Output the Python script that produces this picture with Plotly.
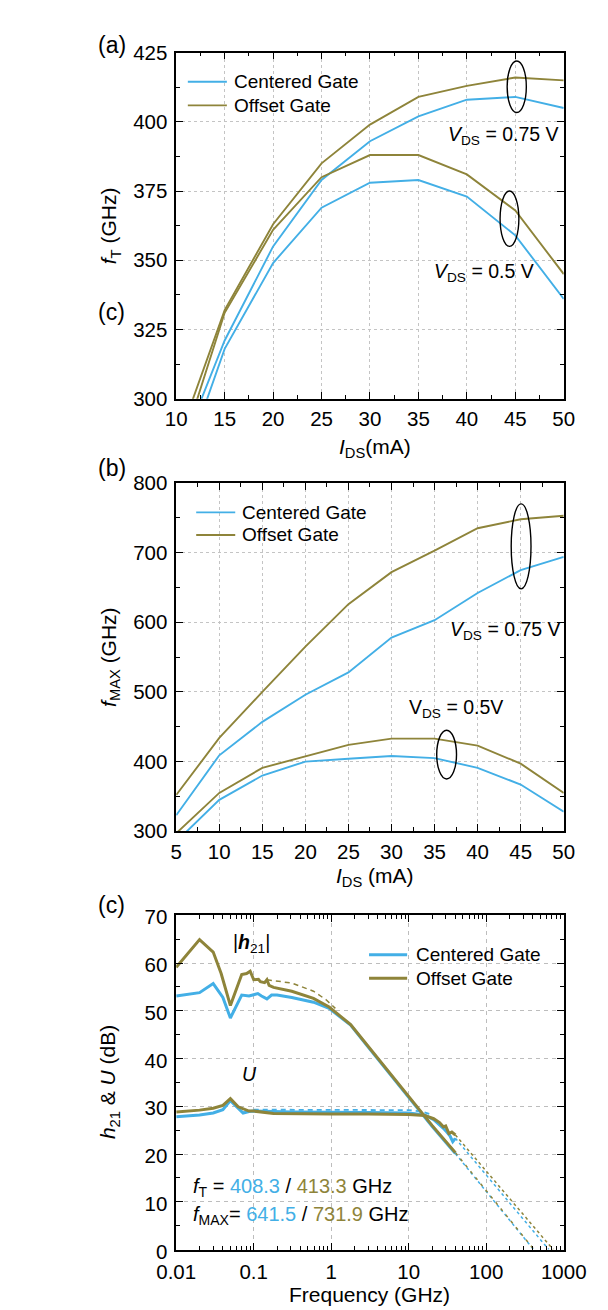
import plotly.graph_objects as go

W, H = 608, 1310
BLUE = "#43AFE6"
OLIVE = "#8E843A"
FONT = "Liberation Sans, Arial, Helvetica, sans-serif"

# ---------------- data (a): fT vs IDS ----------------
ids_a = [10, 15, 20, 25, 30, 35, 40, 45, 50]
ft_center_075 = [277, 321, 355, 379, 393, 402, 408, 409, 405]
ft_center_050 = [268, 318, 349, 369, 378, 379, 373, 359, 336]
ft_offset_075 = [283, 332, 363, 385, 399, 409, 413, 416, 415]
ft_offset_050 = [276, 331, 361, 380, 388, 388, 381, 368, 345]

# ---------------- data (b): fMAX vs IDS ----------------
ids_b = [5, 10, 15, 20, 25, 30, 35, 40, 45, 50]
fmax_center_075 = [323, 409, 457, 496, 528, 578, 603, 642, 675, 694]
fmax_offset_075 = [352, 434, 500, 565, 626, 672, 703, 735, 748, 753]
fmax_center_050 = [285, 345, 380, 400, 404, 408, 405, 391, 367, 328]
fmax_offset_050 = [297, 355, 391, 408, 424, 433, 433, 423, 397, 355]

# ---------------- data (c): |h21| and U vs frequency ----------------
f_h21_offset = [0.01, 0.02, 0.03, 0.038, 0.05, 0.07, 0.081, 0.09, 0.1, 0.115, 0.122,
                0.138, 0.148, 0.158, 0.18, 0.31, 0.59, 0.94, 1.78, 3, 10, 20, 40]
h21_offset = [59.1, 64.9, 62.3, 57.8, 51.1, 57.6, 57.8, 58.3, 56.5, 56.6, 56.1,
              55.9, 56.5, 55.3, 54.9, 54.1, 52.6, 50.8, 47.1, 42.6, 32.0, 26.0, 20.3]
f_h21_center = [0.01, 0.02, 0.03, 0.04, 0.05, 0.07, 0.087, 0.1, 0.113, 0.126, 0.148,
                0.17, 0.2, 0.31, 0.59, 0.94, 1.78, 3, 10, 20, 40]
h21_center = [53.1, 53.8, 55.7, 52.8, 48.5, 53.3, 53.1, 53.3, 53.6, 53.1, 52.5,
              53.3, 53.3, 52.8, 51.8, 50.5, 47.0, 42.4, 31.8, 25.8, 20.1]
f_u_offset = [0.01, 0.02, 0.03, 0.04, 0.05, 0.063, 0.087, 0.1, 0.18, 0.5, 1, 3, 10,
              16, 21, 25, 28, 30, 33, 36, 40]
u_offset = [28.8, 29.2, 29.6, 30.2, 31.6, 29.9, 29.0, 29.0, 28.5, 28.4, 28.4, 28.4, 28.3,
            28.1, 27.4, 26.6, 25.7, 25.9, 24.3, 24.6, 24.0]
f_u_center = [0.01, 0.02, 0.03, 0.04, 0.05, 0.073, 0.087, 0.1, 0.3, 1, 3, 10,
              16, 21, 25, 28, 31, 34, 37, 40]
u_center = [27.8, 28.2, 28.6, 29.3, 31.2, 28.6, 28.9, 29.0, 28.8, 28.8, 28.7, 28.6,
            28.2, 27.2, 26.2, 25.4, 24.6, 23.8, 22.6, 23.3]
# dashed fits / extrapolations
f_h21_fit_offset = [0.148, 0.31, 0.59, 0.86, 1.13]
h21_fit_offset = [56.5, 55.8, 54.1, 52.3, 50.5]
f_u_fit_center = [0.1, 1, 10, 15, 20]
u_fit_center = [29.3, 29.3, 29.2, 28.9, 28.2]
f_h21_ext_center = [40, 408.3]
h21_ext_center = [20.1, 0]
f_h21_ext_offset = [40, 413.3]
h21_ext_offset = [20.3, 0]
f_u_ext_center = [40, 641.5]
u_ext_center = [23.3, 0]
f_u_ext_offset = [40, 731.9]
u_ext_offset = [24.0, 0]

freq_ticks = [0.01, 0.1, 1, 10, 100, 1000]
freq_ticklabels = ["0.01", "0.1", "1", "10", "100", "1000"]
freq_minor = [m * 10 ** e for e in range(-2, 3) for m in range(2, 10)]

legend_labels = ["Centered Gate", "Offset Gate"]


def P(x, y):
    return x / W, 1 - y / H


fig = go.Figure()


def add_line(x, y, color, xa, ya, width=1.9, dash="solid"):
    fig.add_trace(go.Scatter(x=x, y=y, mode="lines",
                             line=dict(color=color, width=width, dash=dash),
                             xaxis=xa, yaxis=ya, showlegend=False, hoverinfo="skip"))


# (a)
add_line(ids_a, ft_center_075, BLUE, "x", "y")
add_line(ids_a, ft_center_050, BLUE, "x", "y")
add_line(ids_a, ft_offset_075, OLIVE, "x", "y")
add_line(ids_a, ft_offset_050, OLIVE, "x", "y")
# (b)
add_line(ids_b, fmax_center_075, BLUE, "x2", "y2")
add_line(ids_b, fmax_center_050, BLUE, "x2", "y2")
add_line(ids_b, fmax_offset_075, OLIVE, "x2", "y2")
add_line(ids_b, fmax_offset_050, OLIVE, "x2", "y2")
# (c) dashed first (underneath)
DOT = "3px,3px"
add_line(f_h21_fit_offset, h21_fit_offset, OLIVE, "x3", "y3", 1.5, "5px,4px")
add_line(f_u_fit_center, u_fit_center, BLUE, "x3", "y3", 1.8, "5px,4px")
add_line(f_h21_ext_center, h21_ext_center, BLUE, "x3", "y3", 1.5, DOT)
add_line(f_h21_ext_offset, h21_ext_offset, OLIVE, "x3", "y3", 1.5, "3px,5px")
add_line(f_u_ext_center, u_ext_center, BLUE, "x3", "y3", 1.5, DOT)
add_line(f_u_ext_offset, u_ext_offset, OLIVE, "x3", "y3", 1.5, DOT)
add_line(f_u_center, u_center, BLUE, "x3", "y3", 3)
add_line(f_h21_center, h21_center, BLUE, "x3", "y3", 3)
add_line(f_u_offset, u_offset, OLIVE, "x3", "y3", 3)
add_line(f_h21_offset, h21_offset, OLIVE, "x3", "y3", 3)

XDOM = [159.5 / W, 576.5 / W]


def ax(is_x, **kw):
    d = dict(showline=True, linecolor="black", linewidth=1.5, mirror="ticks",
             ticks="inside", ticklen=7, tickwidth=1.3, tickcolor="black",
             showgrid=True, gridcolor="#C4C4C4", gridwidth=1, griddash="dot",
             zeroline=False, tickfont=dict(family=FONT, size=20.5, color="black"),
             ticklabelstandoff=1 if is_x else 3)
    d.update(kw)
    return d


def minor(dt):
    return dict(ticks="inside", ticklen=4, tickwidth=1.2, tickcolor="black",
                showgrid=False, dtick=dt)


layout = dict(
    width=W, height=H, margin=dict(l=0, r=0, t=0, b=0),
    paper_bgcolor="white", plot_bgcolor="white", showlegend=False,
    font=dict(family=FONT, color="black"),
    xaxis=ax(True, domain=XDOM, anchor="y", range=[10, 50], dtick=5, tick0=10, minor=minor(2.5)),
    yaxis=ax(False, domain=[1 - 386 / H, 1 - 33.3 / H], anchor="x", range=[300, 425], dtick=25,
             tick0=300, minor=minor(12.5)),
    xaxis2=ax(True, domain=XDOM, anchor="y2", range=[5, 50], dtick=5, tick0=5, minor=minor(2.5)),
    yaxis2=ax(False, domain=[1 - 827 / H, 1 - 472 / H], anchor="x2", range=[300, 800], dtick=100,
              tick0=300, minor=minor(50)),
    xaxis3=ax(True, domain=XDOM, anchor="y3", type="log", range=[-2, 3], tickmode="array",
              tickvals=freq_ticks, ticktext=freq_ticklabels, griddash="4px,4px",
              gridcolor="#BDBDBD", ticklabelstandoff=3,
              minor=dict(ticks="inside", ticklen=4, tickwidth=1.2, tickcolor="black",
                         showgrid=False, tickmode="array", tickvals=freq_minor)),
    yaxis3=ax(False, domain=[1 - 1253.5 / H, 1 - 912.7 / H], anchor="x3", range=[0, 70], dtick=10,
              tick0=0, griddash="4px,4px", gridcolor="#BDBDBD", minor=minor(5),
              ticklabelshift=2),
)
fig.update_layout(**layout)

ann = []
shapes = []


def text(x, y, s, size=19.5, xanchor="left", angle=0, color="black"):
    px_, py_ = P(x, y)
    ann.append(dict(x=px_, y=py_, xref="paper", yref="paper", text=s, showarrow=False,
                    xanchor=xanchor, yanchor="middle", textangle=angle,
                    font=dict(family=FONT, size=size, color=color)))


def hline(x0, x1, y, color, width):
    a0, b0 = P(x0, y)
    a1, _ = P(x1, y)
    shapes.append(dict(type="line", xref="paper", yref="paper", x0=a0, x1=a1, y0=b0, y1=b0,
                       line=dict(color=color, width=width)))


def ellipse(xref, yref, cx, cy, rx, ry):
    shapes.append(dict(type="circle", xref=xref, yref=yref, x0=cx - rx, x1=cx + rx,
                       y0=cy - ry, y1=cy + ry, line=dict(color="black", width=1.4)))


# panel labels
text(90, 25, "(a)", 23, "center")
text(90, 298, "(c)", 23, "center")
text(90, 457, "(b)", 23, "center")
text(90, 902, "(c)", 23, "center")

# axis titles
text(88, 209.5, "<i>f</i><sub>T</sub> (GHz)", 21, "center", -90)
text(373, 436, "<i>I</i><sub>DS</sub>(mA)", 21, "center")
text(88, 649.5, "<i>f</i><sub>MAX</sub> (GHz)", 21, "center", -90)
text(373, 874, "<i>I</i><sub>DS</sub> (mA)", 21, "center")
text(88, 1083, "<i>h</i><sub>21</sub> &amp; <i>U</i> (dB)", 21, "center", -90)
text(368, 1299.5, "Frequency (GHz)", 21, "center")

# legends
for (x0, x1, xt, ys, lw) in [(172, 214, 220, (63, 87), 1.9),
                             (181, 223, 228, (502, 525), 1.9),
                             (367, 408, 415, (953, 977), 3)]:
    for lab, col, yy in zip(legend_labels, [BLUE, OLIVE], ys):
        hline(x0, x1, yy, col, lw)
        text(xt, yy, lab, 19)

# annotations (a)
text(574, 118, "<i>V</i><sub>DS</sub> = 0.75 V", 19.5, "right")
text(547, 257, "<i>V</i><sub>DS</sub> = 0.5 V", 19.5, "right")
ellipse("x", "y", 45.15, 412.7, 0.99, 9.3)
ellipse("x", "y", 44.4, 365, 0.97, 10)
# annotations (b)
text(576, 622, "<i>V</i><sub>DS</sub> = 0.75 V", 19.5, "right")
text(408, 702, "V<sub>DS</sub> = 0.5V", 19.5, "left")
ellipse("x2", "y2", 45.05, 709, 1.15, 61)
ellipse("x2", "y2", 36.4, 410, 1.15, 35)
# annotations (c)
text(241, 941, "|<b><i>h</i></b><sub>21</sub>|", 19.5, "center")
text(238, 1074, "<i>U</i>", 19.5, "center")
text(175, 1190, "<i>f</i><sub>T</sub> = <span style='color:%s'>408.3</span> / "
     "<span style='color:%s'>413.3</span> GHz" % (BLUE, OLIVE), 20)
text(175, 1219, "<i>f</i><sub>MAX</sub>= <span style='color:%s'>641.5</span> / "
     "<span style='color:%s'>731.9</span> GHz" % (BLUE, OLIVE), 20)

fig.update_layout(annotations=ann, shapes=shapes)
fig.write_html("out.html")
